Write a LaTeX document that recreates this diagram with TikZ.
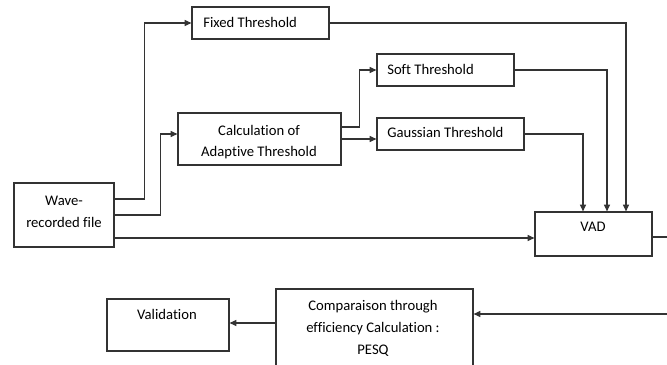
\documentclass[tikz,border=0pt]{standalone}
\usepackage{fontspec}
\setmainfont[Ligatures={NoCommon,NoRare}]{Carlito}
\usetikzlibrary{arrows.meta,fit}

\begin{document}
\begin{tikzpicture}[x=0.75pt,y=-0.75pt,
        box/.style={draw=black!80, line width=0.9pt, inner sep=0pt},
        lbl/.style={font=\fontsize{11}{16}\selectfont, inner sep=0pt, align=center},
        arr/.style={draw=black!80, line width=0.9pt, -{Triangle[length=5pt,width=4.5pt]}},
        wire/.style={draw=black!80, line width=0.9pt}]
        \useasboundingbox (0,0) rectangle (667,364);
        \clip (0,0) rectangle (667,364);
        % Boxes
        \node[box, fit={(14,183) (114,247)}] (wave) {};
        \node[box, fit={(192,7) (329,39)}] (fixed) {};
        \node[box, fit={(178,113) (341,165)}] (calc) {};
        \node[box, fit={(377,54) (514,86)}] (soft) {};
        \node[box, fit={(377,118) (524,150)}] (gauss) {};
        \node[box, fit={(535,212) (652,256)}] (vad) {};
        \node[box, fit={(276,289) (473,375)}] (comp) {};
        \node[box, fit={(107,299) (229,351)}] (valid) {};
        % Texts
        \node[lbl, anchor=north, font=\fontsize{11}{17}\selectfont] (wavetxt) at (64,195.6) {Wave-\\recorded file};
        \node[lbl, anchor=base west] (fixedtxt) at (203,27) {Fixed Threshold};
        \node[lbl, anchor=north] (calctxt) at (259,124.7) {Calculation of\\Adaptive Threshold};
        \node[lbl, anchor=base west] (softtxt) at (387,74) {Soft Threshold};
        \node[lbl, anchor=base west] (gausstxt) at (387,137) {Gaussian Threshold};
        \node[lbl, anchor=base] (vadtxt) at (593,231) {VAD};
        \node[lbl, anchor=north, font=\fontsize{11}{16.5}\selectfont] (comptxt) at (373,299.7) {Comparaison through\\efficiency Calculation~:\\PESQ};
        \node[lbl, anchor=base] (validtxt) at (167,319) {Validation};
        % Edge points
        \coordinate (outR) at (667,237);
        \coordinate (inR) at (667,314);
        % Connectors
        \draw[arr] (wave.north east |- 0,199) -- ++(30,0) |- (fixed.west);
        \draw[arr] (wave.east) -- ++(46,0) |- (calc.west |- 0,134);
        \draw[arr] (wave.east |- 0,238) -- (vad.west |- 0,238);
        \draw[arr] (calc.east |- 0,127) -- ++(18,0) |- (soft.west);
        \draw[arr] (calc.east |- 0,139) -- (gauss.west |- 0,139);
        \draw[arr] (fixed.east) -| (vad.north -| 626,0);
        \draw[arr] (soft.east) -| (vad.north -| 607,0);
        \draw[arr] (gauss.east) -| (vad.north -| 583,0);
        \draw[wire] (vad.east |- outR) -- (outR);
        \draw[arr] (inR) -- (comp.east |- inR);
        \draw[arr] (comp.west |- 0,323) -- (valid.east |- 0,323);
\end{tikzpicture}
\end{document}
